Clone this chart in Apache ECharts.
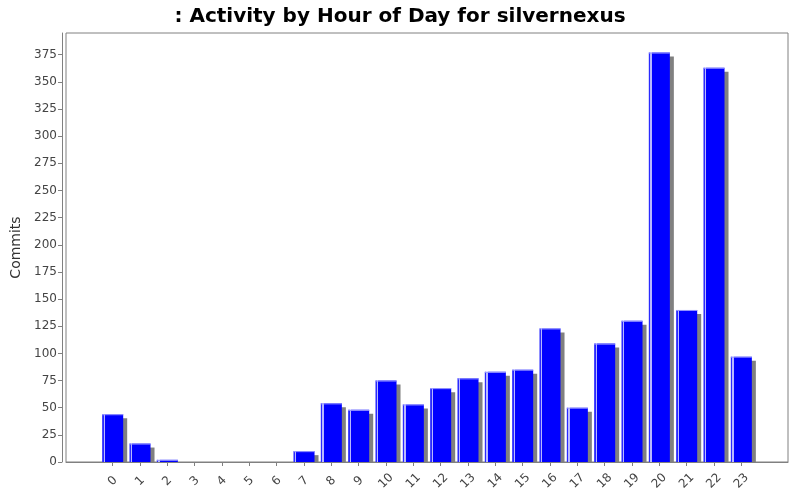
<!DOCTYPE html>
<html>
<head>
<meta charset="utf-8">
<script src="https://cdn.jsdelivr.net/npm/echarts@6/dist/echarts.min.js"></script>
<style>
  html, body { margin: 0; padding: 0; background: #ffffff; }
  #chart { width: 800px; height: 500px; }
</style>
</head>
<body>
<div id="chart"></div>
<script>
  var hours = ['0', '1', '2', '3', '4', '5', '6', '7', '8', '9', '10', '11',
    '12', '13', '14', '15', '16', '17', '18', '19', '20', '21', '22', '23'];
  var commits = [44, 17, 2, 0, 0, 0, 0, 10, 54, 48, 75, 53,
    68, 77, 83, 85, 123, 50, 109, 130, 377, 140, 363, 97];
  var yTicks = [0, 25, 50, 75, 100, 125, 150, 175, 200, 225, 250, 275, 300, 325, 350, 375];

  var font = 'DejaVu Sans';
  var axisGrey = '#808080';

  var barFill = new echarts.graphic.LinearGradient(0, 0, 1, 0, [
    { offset: 0, color: '#2a2aff' },
    { offset: 0.07, color: '#2a2aff' },
    { offset: 0.07, color: '#b8b8ff' },
    { offset: 0.13, color: '#b8b8ff' },
    { offset: 0.13, color: '#0000ff' },
    { offset: 1, color: '#0000ff' }
  ]);

  // bar with a flat grey drop shadow, stopping at the baseline
  function renderBar(params, api) {
    var val = api.value(1);
    if (!val) {
      return null;
    }
    var top = api.coord([api.value(0), val]);
    var base = api.coord([api.value(0), 0]);
    var w = api.size([1, 0])[0] * 0.77;
    var x = top[0] - w / 2;
    var h = base[1] - top[1];
    return {
      type: 'group',
      children: [
        {
          type: 'rect',
          shape: { x: x + 4, y: top[1] + 4, width: w, height: Math.max(0, h - 4) },
          style: { fill: '#808080' }
        },
        {
          type: 'rect',
          shape: { x: x, y: top[1], width: w, height: h },
          style: { fill: barFill }
        },
        {
          type: 'rect',
          shape: { x: x, y: top[1], width: w, height: Math.min(1, h) },
          style: { fill: '#9a9aff' }
        }
      ]
    };
  }

  var barData = [];
  for (var i = 0; i < commits.length; i += 1) {
    barData.push([i, commits[i]]);
  }

  var chart = echarts.init(document.getElementById('chart'));
  chart.setOption({
    animation: false,
    backgroundColor: '#ffffff',
    title: {
      text: ': Activity by Hour of Day for silvernexus',
      left: 'center',
      top: 2,
      textStyle: { fontFamily: font, fontSize: 20, fontWeight: 'bold', color: '#000000' }
    },
    grid: [
      // outer frame
      { left: 66, top: 33, width: 722, height: 429, show: true, borderColor: axisGrey, borderWidth: 1 },
      // bars area (category margins inside the frame)
      { left: 99, top: 33, width: 656, height: 429 }
    ],
    xAxis: [
      {
        gridIndex: 0, type: 'value', min: 0, max: 1, offset: 4,
        axisLine: { show: true, lineStyle: { color: axisGrey } },
        axisTick: { show: false }, axisLabel: { show: false }, splitLine: { show: false }
      },
      {
        gridIndex: 1, type: 'category', data: hours, offset: 4,
        axisLine: { show: false },
        axisTick: { show: true, alignWithLabel: true, length: 4, lineStyle: { color: axisGrey } },
        axisLabel: {
          rotate: 45, margin: 15, align: 'center', verticalAlign: 'middle',
          fontFamily: font, fontSize: 12, color: '#444444'
        },
        splitLine: { show: false }
      }
    ],
    yAxis: [
      { gridIndex: 0, type: 'value', show: false, min: 0, max: 1 },
      {
        gridIndex: 1, type: 'value', min: 0, max: 395, interval: 25, offset: 37,
        name: 'Commits', nameLocation: 'middle', nameGap: 25,
        nameTextStyle: { fontFamily: font, fontSize: 14, color: '#333333' },
        axisLine: { show: true, lineStyle: { color: axisGrey } },
        axisTick: { show: true, length: 4, customValues: yTicks, lineStyle: { color: axisGrey } },
        axisLabel: { margin: 5, customValues: yTicks, fontFamily: font, fontSize: 12, color: '#444444' },
        splitLine: { show: false }
      }
    ],
    series: [
      {
        type: 'custom',
        xAxisIndex: 1,
        yAxisIndex: 1,
        data: barData,
        encode: { x: 0, y: 1 },
        renderItem: renderBar
      }
    ]
  });
</script>
</body>
</html>
